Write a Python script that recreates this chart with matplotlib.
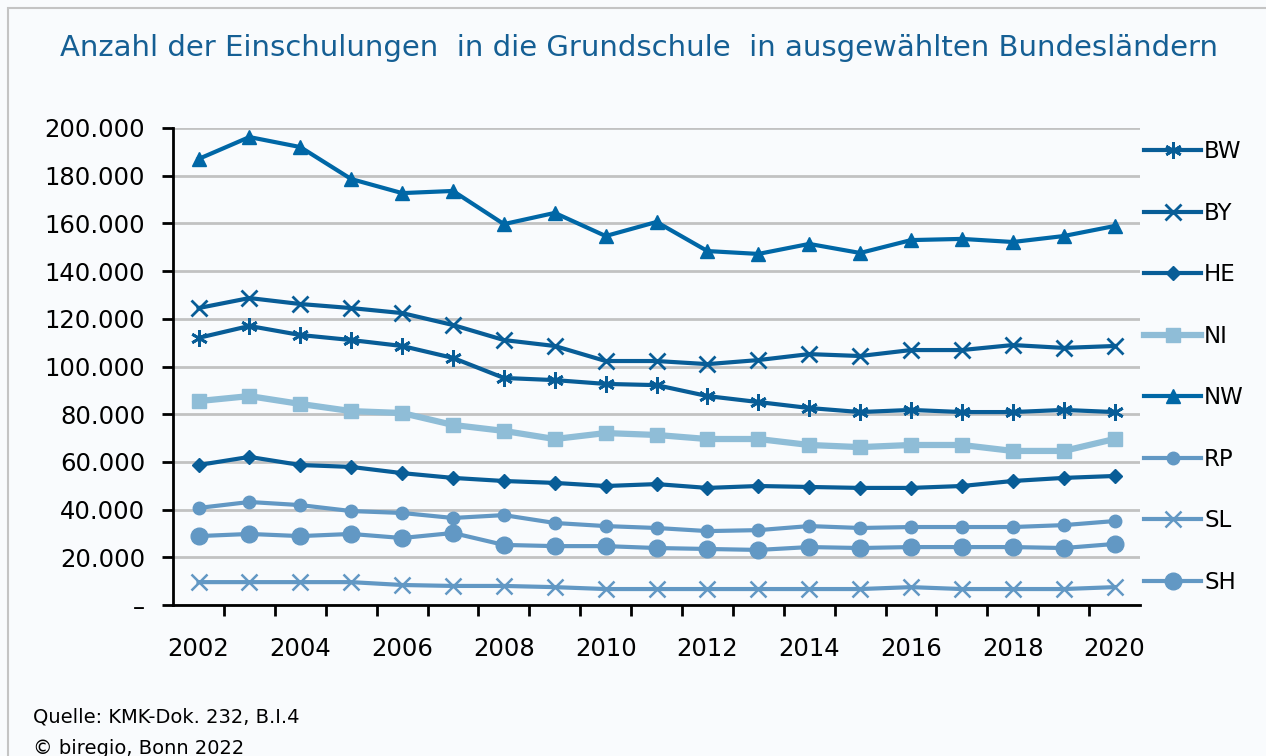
import matplotlib.pyplot as plt
from matplotlib.patches import Rectangle
from matplotlib.ticker import FixedLocator

plt.rcParams['font.family'] = ['DejaVu Sans']

years = list(range(2002, 2021))

bw = [112000, 117000, 113200, 111100, 108600, 103600, 95200, 94300, 92700, 92200,
      87600, 85100, 82600, 80900, 81800, 80900, 80900, 81800, 80900]
by = [124500, 128700, 126200, 124500, 122400, 117400, 111100, 108600, 102300, 102300,
      101000, 102700, 105200, 104400, 106900, 106900, 109000, 107800, 108600]
he = [58700, 62100, 58700, 57900, 55300, 53300, 52000, 51200, 49900, 50700,
      49100, 49900, 49500, 49100, 49100, 49900, 52000, 53300, 54100]
ni = [85500, 87600, 84300, 81300, 80500, 75500, 73000, 69600, 72100, 71300,
      69600, 69600, 67100, 66200, 67100, 67100, 64600, 64600, 69600]
nw = [187000, 196200, 192000, 178600, 172700, 173600, 159700, 164400, 154700, 160600,
      148400, 147200, 151400, 147600, 153000, 153500, 152200, 154700, 158900]
rp = [40700, 43200, 41900, 39400, 38600, 36500, 37700, 34400, 33100, 32300,
      31000, 31400, 33100, 32300, 32700, 32700, 32700, 33500, 35200]
sl = [9600, 9600, 9600, 9600, 8400, 8000, 8000, 7500, 6700, 6700,
      6700, 6700, 6700, 6700, 7500, 6700, 6700, 6700, 7500]
sh = [28900, 29800, 28900, 29800, 28100, 30200, 25200, 24700, 24700, 23900,
      23500, 23100, 24300, 23900, 24300, 24300, 24300, 23900, 25600]

y_ticks = [0, 20000, 40000, 60000, 80000, 100000, 120000, 140000, 160000, 180000, 200000]
y_labels = ['–', '20.000', '40.000', '60.000', '80.000', '100.000', '120.000',
            '140.000', '160.000', '180.000', '200.000']
x_labels = list(range(2002, 2021, 2))

dark = '#085d97'
nwc = '#0067a6'
light = '#8fbdd7'
mid = '#6298c4'
bg = '#f9fbfd'

fig = plt.figure(figsize=(12.66, 7.56), dpi=100, facecolor=bg)
fig.patches.append(Rectangle((8 / 1266, -0.1), 1.2, 1 - 8 / 756 + 0.1, transform=fig.transFigure,
                             fill=False, edgecolor='#c4c4c4', linewidth=1.5))
ax = fig.add_axes([0.1367, 0.1997, 0.7638, 0.631])
ax.set_facecolor(bg)

ax.plot(years, bw, color=dark, lw=3, marker=(6, 2, 0), ms=12, mew=2, label='BW')
ax.plot(years, by, color=dark, lw=3, marker='x', ms=11, mew=2, label='BY')
ax.plot(years, he, color=dark, lw=3, marker='D', ms=7.5, label='HE')
ax.plot(years, ni, color=light, lw=4.5, marker='s', ms=10.5, label='NI')
ax.plot(years, nw, color=nwc, lw=3, marker='^', ms=10, label='NW')
ax.plot(years, rp, color=mid, lw=3, marker='o', ms=9, label='RP')
ax.plot(years, sl, color=mid, lw=3, marker='x', ms=11, mew=1.8, label='SL')
ax.plot(years, sh, color=mid, lw=3, marker='o', ms=12, label='SH')

ax.set_xlim(2001.5, 2020.5)
ax.set_ylim(0, 200000)
ax.set_yticks(y_ticks)
ax.set_yticklabels(y_labels, fontsize=17.5)
ax.yaxis.grid(True, color='#c2c2c2', lw=2)
ax.set_axisbelow(True)

ax.set_xticks(x_labels)
ax.set_xticklabels([str(x) for x in x_labels], fontsize=17.5)
ax.tick_params(axis='x', length=0, pad=23)
ax.xaxis.set_minor_locator(FixedLocator([y + 0.5 for y in years[:-1]]))
ax.tick_params(axis='x', which='minor', length=8, width=2, direction='out')
ax.tick_params(axis='y', length=8, width=2, pad=12)

for s in ['top', 'right']:
    ax.spines[s].set_visible(False)
for s in ['left', 'bottom']:
    ax.spines[s].set_linewidth(2)

ax.legend(loc='upper left', bbox_to_anchor=(0.99, 1.003), frameon=False, fontsize=16.5,
          labelspacing=1.68, handlelength=2.5, handletextpad=0.12, borderaxespad=0.2)

fig.text(0.505, 0.936, 'Anzahl der Einschulungen  in die Grundschule  in ausgewählten Bundesländern',
         ha='center', va='center', fontsize=21, color='#155f94')
fig.text(33 / 1266, 1 - 717 / 756, 'Quelle: KMK-Dok. 232, B.I.4', fontsize=14, va='center')
fig.text(33 / 1266, 1 - 749 / 756, '© biregio, Bonn 2022', fontsize=14, va='center')

fig.savefig('out.png', dpi=100, facecolor=bg)
